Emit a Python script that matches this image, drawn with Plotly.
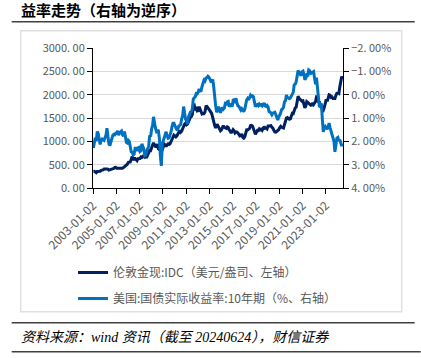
import plotly.graph_objects as go
import pandas as pd

# Monthly values, Jan 2003 .. Jun 2024
gold = [
    356, 359, 340, 328, 355, 356, 351, 360, 379, 378, 389, 407,
    414, 405, 406, 404, 384, 392, 398, 400, 406, 420, 439, 442,
    424, 423, 434, 429, 422, 431, 424, 438, 456, 470, 476, 510,
    549, 555, 557, 610, 676, 596, 633, 632, 598, 586, 628, 629,
    631, 665, 655, 679, 667, 655, 665, 665, 712, 754, 806, 803,
    889, 922, 968, 909, 888, 889, 939, 839, 829, 806, 760, 816,
    858, 943, 924, 890, 928, 946, 934, 949, 996, 1043, 1127, 1135,
    1118, 1095, 1113, 1148, 1205, 1232, 1193, 1215, 1271, 1343, 1370, 1391,
    1356, 1372, 1424, 1474, 1512, 1529, 1572, 1756, 1772, 1665, 1739, 1652,
    1656, 1742, 1673, 1650, 1585, 1596, 1594, 1630, 1744, 1747, 1722, 1685,
    1671, 1627, 1593, 1487, 1414, 1343, 1286, 1347, 1349, 1316, 1275, 1225,
    1244, 1300, 1336, 1299, 1287, 1279, 1311, 1296, 1239, 1222, 1176, 1201,
    1251, 1227, 1179, 1198, 1199, 1181, 1128, 1117, 1125, 1157, 1085, 1068,
    1097, 1200, 1246, 1243, 1260, 1276, 1337, 1341, 1326, 1267, 1238, 1152,
    1192, 1234, 1231, 1266, 1246, 1260, 1236, 1283, 1315, 1280, 1283, 1265,
    1331, 1331, 1325, 1335, 1303, 1282, 1238, 1202, 1198, 1215, 1221, 1250,
    1291, 1320, 1300, 1286, 1284, 1359, 1413, 1500, 1510, 1495, 1471, 1480,
    1560, 1598, 1592, 1683, 1716, 1732, 1846, 1968, 1921, 1900, 1866, 1858,
    1867, 1808, 1718, 1760, 1850, 1834, 1807, 1785, 1775, 1777, 1821, 1790,
    1817, 1856, 1948, 1937, 1849, 1837, 1733, 1765, 1681, 1665, 1726, 1798,
    1898, 1855, 1912, 1999, 1991, 1943, 1951, 1918, 1916, 1916, 1985, 2030,
    2035, 2024, 2162, 2340, 2390, 2330,
]

tips = [
    2.29, 2.02, 1.85, 1.99, 1.58, 1.66, 1.96, 2.13, 1.95, 1.90, 1.93, 1.96,
    1.84, 1.73, 1.44, 1.86, 2.11, 2.18, 2.03, 1.84, 1.74, 1.70, 1.72, 1.65,
    1.66, 1.55, 1.74, 1.64, 1.59, 1.56, 1.72, 1.77, 1.58, 1.77, 2.04, 2.07,
    1.96, 2.01, 2.24, 2.45, 2.47, 2.58, 2.55, 2.30, 2.30, 2.42, 2.28, 2.26,
    2.43, 2.39, 2.11, 2.19, 2.32, 2.62, 2.60, 2.41, 2.26, 2.21, 1.75, 1.79,
    1.47, 1.30, 0.95, 1.32, 1.44, 1.58, 1.54, 1.55, 1.87, 2.60, 3.05, 2.10,
    1.96, 1.83, 1.76, 1.59, 1.76, 1.87, 1.85, 1.73, 1.60, 1.37, 1.22, 1.22,
    1.38, 1.42, 1.49, 1.48, 1.35, 1.31, 1.28, 1.04, 0.90, 0.51, 0.79, 1.06,
    1.09, 1.26, 0.96, 0.84, 0.75, 0.73, 0.61, 0.18, 0.14, 0.09, -0.05, -0.04,
    -0.11, -0.25, -0.16, -0.17, -0.35, -0.50, -0.62, -0.58, -0.71, -0.73, -0.79, -0.75,
    -0.61, -0.58, -0.59, -0.65, -0.36, 0.25, 0.46, 0.74, 0.69, 0.51, 0.67, 0.78,
    0.63, 0.55, 0.62, 0.57, 0.38, 0.40, 0.31, 0.29, 0.52, 0.43, 0.42, 0.52,
    0.24, 0.20, 0.36, 0.15, 0.36, 0.48, 0.50, 0.57, 0.66, 0.60, 0.70, 0.73,
    0.63, 0.40, 0.23, 0.16, 0.22, 0.13, 0.02, 0.07, 0.05, 0.10, 0.32, 0.52,
    0.43, 0.42, 0.47, 0.40, 0.45, 0.43, 0.48, 0.39, 0.36, 0.48, 0.50, 0.46,
    0.52, 0.72, 0.73, 0.79, 0.86, 0.79, 0.77, 0.75, 0.85, 1.04, 1.09, 0.97,
    0.89, 0.78, 0.64, 0.61, 0.54, 0.30, 0.26, 0.02, 0.12, 0.13, 0.17, 0.14,
    0.05, -0.09, -0.10, -0.42, -0.45, -0.54, -0.84, -1.04, -0.96, -0.89, -0.81, -0.98,
    -1.01, -0.87, -0.64, -0.71, -0.85, -0.84, -1.06, -1.03, -0.91, -0.93, -0.98, -0.99,
    -0.69, -0.45, -0.73, -0.17, 0.20, 0.53, 0.41, 0.38, 1.05, 1.59, 1.42, 1.36,
    1.42, 1.48, 1.39, 1.22, 1.41, 1.55, 1.61, 1.82, 2.00, 2.45, 2.17, 1.86,
    1.83, 1.98, 1.93, 2.14, 2.20, 2.10,
]

dates = pd.date_range("2003-01-01", periods=len(gold), freq="MS") + pd.Timedelta(days=14)

x_ticks = ["2003-01-02", "2005-01-02", "2007-01-02", "2009-01-02", "2011-01-02",
           "2013-01-02", "2015-01-02", "2017-01-02", "2019-01-02", "2021-01-02",
           "2023-01-02"]
left_ticks = [0, 500, 1000, 1500, 2000, 2500, 3000]
left_labels = ["0. 00", "500. 00", "1000. 00", "1500. 00", "2000. 00", "2500. 00", "3000. 00"]
right_ticks = [-2, -1, 0, 1, 2, 3, 4]
right_labels = ["\u22122. 00%", "\u22121. 00%", "0. 00%", "1. 00%", "2. 00%", "3. 00%", "4. 00%"]

name_gold = "伦敦金现:IDC（美元/盎司、左轴）"
name_tips = "美国:国债实际收益率:10年期（%、右轴）"

FONT = "Noto Sans CJK SC, Noto Sans, sans-serif"
GRAY = "#595959"

fig = go.Figure()
fig.add_trace(go.Scatter(x=dates, y=gold, name=name_gold, mode="lines",
                         line=dict(color="#002060", width=3), legendgroup="a"))
fig.add_trace(go.Scatter(x=dates, y=tips, name=name_tips, mode="lines", yaxis="y2",
                         line=dict(color="#0070C0", width=3), legendgroup="b"))

W, H = 421, 358
# pixel -> paper helpers
L, R, T, B = 93.3, 343.3, 48.3, 188.3
def fx(px):
    return (px - L) / (R - L)
def fy(py):
    return (B - py) / (B - T)

shapes = [
    dict(type="line", xref="paper", yref="paper", x0=fx(12), x1=fx(415), y0=fy(22), y1=fy(22),
         line=dict(color="#404040", width=1.5)),
    dict(type="rect", xref="paper", yref="paper", x0=fx(21), x1=fx(402), y0=fy(31), y1=fy(312),
         line=dict(color="#e0e0e0", width=1.5), layer="below"),
    dict(type="line", xref="paper", yref="paper", x0=fx(12), x1=fx(415), y0=fy(323), y1=fy(323),
         line=dict(color="#404040", width=1.5)),
    dict(type="line", xref="paper", yref="paper", x0=fx(12), x1=fx(421), y0=fy(352), y1=fy(352),
         line=dict(color="#404040", width=1.5)),
]

annotations = [
    dict(text="<b>益率走势（右轴为逆序）</b>", xref="paper", yref="paper", x=fx(19), y=fy(10),
         xanchor="left", yanchor="middle", showarrow=False,
         font=dict(family=FONT, size=15, color="#000000")),
    dict(text="<i>资料来源：wind 资讯（截至 20240624），财信证券</i>", xref="paper", yref="paper",
         x=fx(19), y=fy(338), xanchor="left", yanchor="middle", showarrow=False,
         font=dict(family="Liberation Serif, Noto Sans CJK SC, serif", size=14, color="#000000")),
]

fig.update_layout(
    width=W, height=H,
    margin=dict(l=L, r=W - R, t=T, b=H - B, autoexpand=False),
    paper_bgcolor="white", plot_bgcolor="white",
    font=dict(family=FONT, color=GRAY),
    showlegend=True,
    legend=dict(x=73 / W, y=1 - 258 / H, xref="container", yref="container",
                xanchor="left", yanchor="top",
                font=dict(family=FONT, size=12, color=GRAY), tracegroupgap=7,
                bgcolor="rgba(0,0,0,0)", itemwidth=30),
    xaxis=dict(type="date", range=["2003-01-02", "2024-06-24"], automargin=False,
               tickvals=x_ticks, ticktext=x_ticks, tickangle=-45,
               ticks="outside", ticklen=5, tickcolor="black", tickwidth=1,
               showline=True, linecolor="black", linewidth=1, showgrid=False,
               tickfont=dict(family=FONT, size=12, color=GRAY)),
    yaxis=dict(range=[0, 3000], tickvals=left_ticks, ticktext=left_labels, automargin=False,
               ticks="outside", ticklen=5, tickcolor="black",
               showline=True, linecolor="black", linewidth=1,
               showgrid=True, gridcolor="#d9d9d9", gridwidth=1, zeroline=False,
               tickfont=dict(family=FONT, size=11, color=GRAY)),
    yaxis2=dict(range=[4, -2], tickvals=right_ticks, ticktext=right_labels, automargin=False,
                overlaying="y", side="right",
                ticks="outside", ticklen=5, tickcolor="black",
                showline=True, linecolor="black", linewidth=1,
                showgrid=False, zeroline=False,
                tickfont=dict(family=FONT, size=11, color=GRAY)),
    shapes=shapes,
    annotations=annotations,
)

fig.write_html("out.html", config={"displayModeBar": False},
               post_script="document.body.style.margin='0';document.body.style.padding='0';")
